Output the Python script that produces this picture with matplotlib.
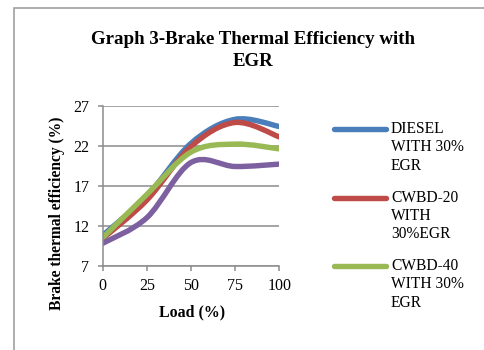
import numpy as np
import matplotlib
matplotlib.use('Agg')
import matplotlib.pyplot as plt
from matplotlib.path import Path
from matplotlib.patches import PathPatch, Rectangle
from matplotlib.lines import Line2D

plt.rcParams['font.family'] = ['Liberation Serif', 'DejaVu Serif']

# data
load = [0, 25, 50, 75, 100]
diesel = [10.8, 15.7, 22.3, 25.3, 24.4]
cwbd20 = [10.4, 15.2, 21.9, 24.9, 23.1]
cwbd40 = [10.5, 15.9, 21.2, 22.2, 21.6]
cwbd60 = [9.8, 13.0, 19.9, 19.4, 19.7]

series = [
    ('DIESEL\nWITH 30%\nEGR', diesel, '#4A7EBB'),
    ('CWBD-20\nWITH\n30%EGR', cwbd20, '#BE4B48'),
    ('CWBD-40\nWITH 30%\nEGR', cwbd40, '#98B954'),
    ('CWBD-60\nWITH 30%\nEGR', cwbd60, '#7D60A0'),
]


def smooth_path(x, y):
    # Excel style smoothed line: cubic bezier segments through the points
    pts = np.column_stack([x, y]).astype(float)
    ext = np.vstack([pts[0], pts, pts[-1]])
    verts = [pts[0]]
    codes = [Path.MOVETO]
    for i in range(len(pts) - 1):
        p0, p1, p2, p3 = ext[i], ext[i + 1], ext[i + 2], ext[i + 3]
        verts += [p1 + (p2 - p0) / 6, p2 - (p3 - p1) / 6, p2]
        codes += [Path.CURVE4] * 3
    return Path(verts, codes)


W, H = 485, 350
fig = plt.figure(figsize=(W / 100, H / 100), dpi=100)
fig.patch.set_facecolor('white')

# outer chart border (runs off the right and bottom edges)
fig.add_artist(Rectangle((13.5 / W, -0.1), 1.2, 1 - 7.5 / H + 0.1,
                         transform=fig.transFigure, fill=False,
                         edgecolor='#A0A0A0', linewidth=1.2))

ax = fig.add_axes([102.7 / W, 1 - 265.7 / H, 176.6 / W, 160 / H])
ax.set_xlim(0, 100)
ax.set_ylim(7, 27)
ax.set_xticks(load)
ax.set_yticks([7, 12, 17, 22, 27])
ax.yaxis.grid(True, color='#8C8C8C', linewidth=1.1)
ax.set_axisbelow(True)
for side in ['top', 'right']:
    ax.spines[side].set_visible(False)
for side in ['left', 'bottom']:
    ax.spines[side].set_color('#8C8C8C')
    ax.spines[side].set_linewidth(1.1)
ax.tick_params(axis='both', colors='#8C8C8C', length=3.6, width=1.1,
               labelcolor='black', labelsize=11.5)
ax.tick_params(axis='y', pad=6)
ax.tick_params(axis='x', pad=5)

for name, vals, color in series:
    ax.add_patch(PathPatch(smooth_path(load, vals), fill=False,
                           edgecolor=color, linewidth=3.9,
                           capstyle='round', joinstyle='round'))

ax.set_xlabel('Load (%)', fontsize=11.4, fontweight='bold', va='center')
ax.xaxis.set_label_coords(0.504, (265.7 - 312) / 160)
ax.set_ylabel('Brake thermal efficiency (%)', fontsize=11.2,
              fontweight='bold', va='center')
ax.yaxis.set_label_coords((57 - 102.7) / 176.6, (265.7 - 213.5) / 160)

fig.text(253 / W, 1 - 40 / H, 'Graph 3-Brake Thermal Efficiency with',
         ha='center', va='center', fontsize=13.6, fontweight='bold')
fig.text(253 / W, 1 - 62 / H, 'EGR',
         ha='center', va='center', fontsize=13.6, fontweight='bold')

# legend: only the first three entries fit in the chart area
for k, (name, vals, color) in enumerate(series[:3]):
    ytop = 129 + 68.5 * k
    fig.add_artist(Line2D([334 / W, 386 / W], [1 - ytop / H, 1 - ytop / H],
                          color=color, linewidth=3.9,
                          solid_capstyle='round'))
    for j, line in enumerate(name.split('\n')):
        fig.text(391 / W, 1 - (ytop + 18.3 * j) / H, line, ha='left',
                 va='center', fontsize=11.2)

fig.savefig('out.png', dpi=100)
